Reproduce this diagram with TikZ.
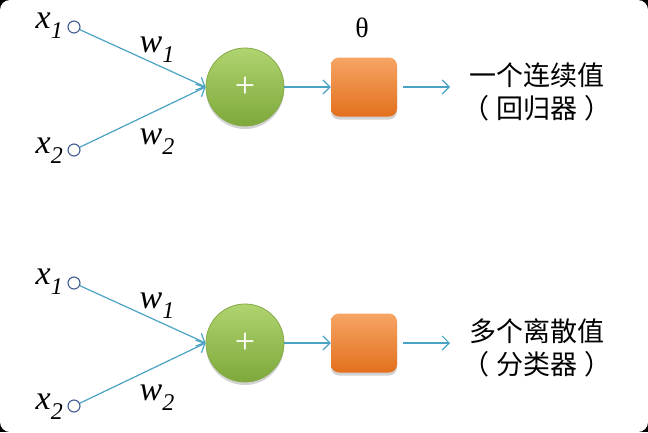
\documentclass[tikz,border=0pt]{standalone}
\usepackage{fontspec}
\setmainfont{Liberation Serif}
\newfontfamily\cjk{Noto Sans CJK SC}
\usetikzlibrary{arrows.meta,shadows}
\definecolor{linec}{HTML}{4BA3C3}
\definecolor{dotc}{HTML}{3E5C8C}
\definecolor{gtop}{HTML}{B0D470}
\definecolor{gbot}{HTML}{7DA83A}
\definecolor{gedge}{HTML}{86AA48}
\definecolor{otop}{HTML}{F6A564}
\definecolor{obot}{HTML}{E2701D}
\tikzset{
  inp/.style={circle,draw=dotc,line width=1.1pt,fill=white,minimum size=12pt,inner sep=0pt},
  sumnode/.style={circle,draw=gedge,line width=0.8pt,top color=gtop,bottom color=gbot,minimum size=78pt,inner sep=0pt,
    drop shadow={opacity=0.35,shadow xshift=0pt,shadow yshift=-3pt},text=white,font=\fontsize{36}{36}\selectfont},
  actbox/.style={rectangle,rounded corners=8pt,top color=otop,bottom color=obot,minimum width=66pt,minimum height=59pt,inner sep=0pt,
    drop shadow={opacity=0.35,shadow xshift=0pt,shadow yshift=-3pt}},
  conn/.style={draw=linec,line width=1.2pt,-{Straight Barb[length=7pt,width=14pt]}},
  lab/.style={font=\fontsize{34}{34}\selectfont\itshape,inner sep=0pt,text height=15pt,text depth=8pt},
  outtxt/.style={font=\cjk\fontsize{27}{33}\selectfont,align=center,inner sep=0pt}
}
\newcommand{\sublab}[2]{#1\raisebox{-0.3em}{\fontsize{24}{24}\selectfont #2}}
\newcommand{\pl}{（\hspace{0.25em}}
\newcommand{\pr}{\hspace{0.25em}）}
\begin{document}
\begin{tikzpicture}[x=1pt,y=-1pt]
\useasboundingbox (0,0) rectangle (648,432);
\fill[black] (0,0) rectangle (648,432);
\fill[white,rounded corners=10pt] (0,0) rectangle (648,432);
% top row
\node[inp] (a1) at (74,27) {};
\node[inp] (a2) at (74,150) {};
\node[lab,anchor=base east] (la1) at (63,28) {\sublab{x}{1}};
\node[lab,anchor=base east] (la2) at (63,153) {\sublab{x}{2}};
\node[sumnode] (s1) at (245,87) {+};
\node[actbox] (b1) at (364,87) {};
\node[font=\fontsize{28}{28}\selectfont] (th) at (362,28) {θ};
\coordinate (o1) at (450,87);
\node[lab,anchor=base] (w1) at (157,52) {\sublab{w}{1}};
\node[lab,anchor=base] (w2) at (157,144) {\sublab{w}{2}};
\draw[conn] (a1) -- (s1.west);
\draw[conn] (a2) -- (s1.west);
\draw[conn] (s1.east) -- (b1.west);
\draw[conn] ([xshift=6pt]b1.east) -- (o1);
\node[outtxt] (t1) at (537,92) {一个连续值\\\pl 回归器\pr};
% bottom row
\node[inp] (c1) at (74,283) {};
\node[inp] (c2) at (74,406) {};
\node[lab,anchor=base east] (lc1) at (63,284) {\sublab{x}{1}};
\node[lab,anchor=base east] (lc2) at (63,409) {\sublab{x}{2}};
\node[sumnode] (s2) at (245,343) {+};
\node[actbox] (b2) at (364,343) {};
\coordinate (o2) at (450,343);
\node[lab,anchor=base] (v1) at (157,308) {\sublab{w}{1}};
\node[lab,anchor=base] (v2) at (157,400) {\sublab{w}{2}};
\draw[conn] (c1) -- (s2.west);
\draw[conn] (c2) -- (s2.west);
\draw[conn] (s2.east) -- (b2.west);
\draw[conn] ([xshift=6pt]b2.east) -- (o2);
\node[outtxt] (t2) at (537,348) {多个离散值\\\pl 分类器\pr};
\end{tikzpicture}
\end{document}
